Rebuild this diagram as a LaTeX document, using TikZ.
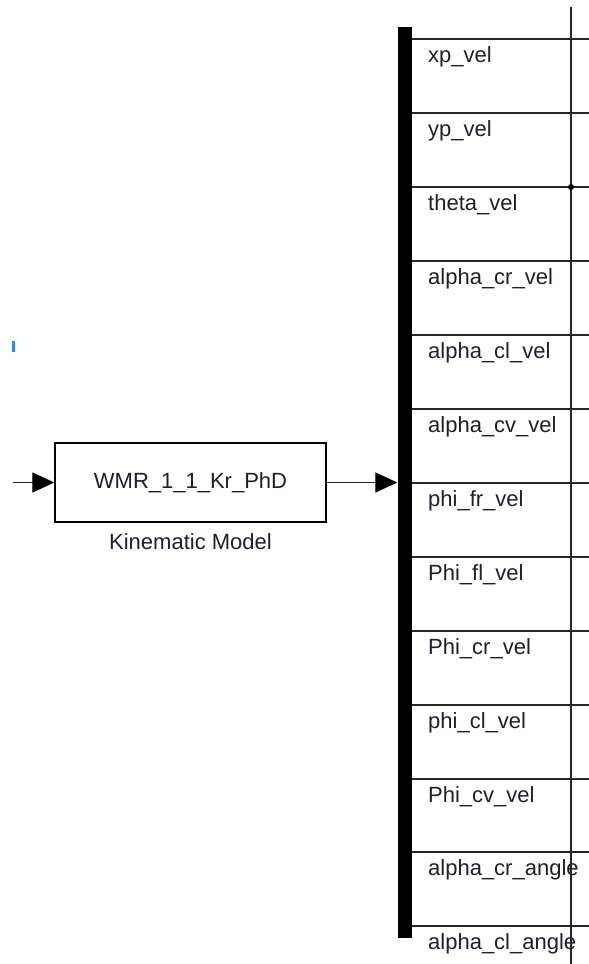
\documentclass[tikz,border=0pt]{standalone}
\usepackage{fontspec}
\setmainfont{Liberation Sans}
\usepackage{tikz}
\usetikzlibrary{positioning,arrows.meta}

\definecolor{txtc}{RGB}{30,30,45}
\tikzset{
	sig/.style={line width=1.3pt, draw=black!85},
	sigarrow/.style={sig, -{Triangle[length=22pt,width=20pt,fill=black,color=black]}},
	busbar/.style={fill=black, draw=none, minimum width=14pt, minimum height=911pt, inner sep=0pt},
	blk/.style={draw, line width=1.4pt, minimum width=271pt, minimum height=79pt, inner sep=0pt},
	lbl/.style={anchor=base west, inner sep=0pt, text=txtc, font=\fontsize{22}{26}\selectfont},
}

\begin{document}
\begin{tikzpicture}[x=1pt,y=-1pt]
\useasboundingbox (0,0) rectangle (589,964);

	\node[busbar] (bus) at (404.5,482.5) {};
	\node[blk, text=txtc, font=\fontsize{22}{26}\selectfont] (wmr) at (190.5,482.5) {WMR\_1\_1\_Kr\_PhD};
	\node[below=11pt of wmr, inner sep=0pt, text=txtc, font=\fontsize{22}{26}\selectfont] (kin) {Kinematic Model};

	\coordinate (in) at (13,482.5);
	\draw[sigarrow] (in) -- (wmr.west);
	\draw[sigarrow] (wmr.east) -- (bus.west);

	% outputs of the bus
	\coordinate (o1) at (589,39);
	\coordinate (o2) at (589,113);
	\coordinate (o3) at (589,187);
	\coordinate (o4) at (589,261);
	\coordinate (o5) at (589,335);
	\coordinate (o6) at (589,409);
	\coordinate (o7) at (589,483);
	\coordinate (o8) at (589,557);
	\coordinate (o9) at (589,631);
	\coordinate (o10) at (589,705);
	\coordinate (o11) at (589,779);
	\coordinate (o12) at (589,852);
	\coordinate (o13) at (589,926);

	\draw[sig] (bus.east |- o1) -- (o1);
	\draw[sig] (bus.east |- o2) -- (o2);
	\draw[sig] (bus.east |- o3) -- (o3);
	\draw[sig] (bus.east |- o4) -- (o4);
	\draw[sig] (bus.east |- o5) -- (o5);
	\draw[sig] (bus.east |- o6) -- (o6);
	\draw[sig] (bus.east |- o7) -- (o7);
	\draw[sig] (bus.east |- o8) -- (o8);
	\draw[sig] (bus.east |- o9) -- (o9);
	\draw[sig] (bus.east |- o10) -- (o10);
	\draw[sig] (bus.east |- o11) -- (o11);
	\draw[sig] (bus.east |- o12) -- (o12);
	\draw[sig] (bus.east |- o13) -- (o13);

	\node[lbl] (l1) at (428,62.5) {xp\_vel};
	\node[lbl] (l2) at (428,136.5) {yp\_vel};
	\node[lbl] (l3) at (428,210.5) {theta\_vel};
	\node[lbl] (l4) at (428,284.5) {alpha\_cr\_vel};
	\node[lbl] (l5) at (428,358.5) {alpha\_cl\_vel};
	\node[lbl] (l6) at (428,432.5) {alpha\_cv\_vel};
	\node[lbl] (l7) at (428,506.5) {phi\_fr\_vel};
	\node[lbl] (l8) at (428,580.5) {Phi\_fl\_vel};
	\node[lbl] (l9) at (428,654.5) {Phi\_cr\_vel};
	\node[lbl] (l10) at (428,728.5) {phi\_cl\_vel};
	\node[lbl] (l11) at (428,802.5) {Phi\_cv\_vel};
	\node[lbl] (l12) at (428,875.5) {alpha\_cr\_angle};
	\node[lbl] (l13) at (428,949.5) {alpha\_cl\_angle};

	% vertical line with branch point
	\coordinate (vtop) at (571,7);
	\coordinate (vbot) at (571,964);
	\draw[sig] (vtop) -- (vbot);
	\node[circle, fill=black, inner sep=0pt, minimum size=6pt] (jn) at (571,187) {};

	\fill[blue!60!cyan!80] (12,341) rectangle (14.5,352);
\end{tikzpicture}
\end{document}
